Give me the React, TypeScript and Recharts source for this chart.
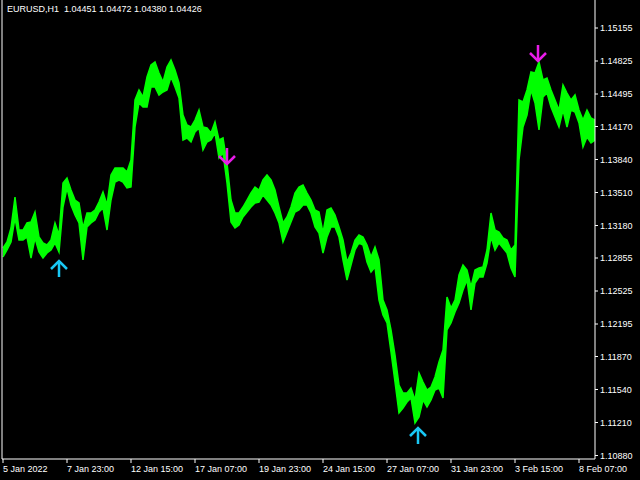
import { ComposedChart, Area, Scatter, XAxis, YAxis } from 'recharts';

// one sample every 4 H1 bars (high / low of the band)
const STEP = 4;

const highs = [
  1.12955, 1.13015, 1.13155, 1.13465, 1.13135, 1.13135, 1.13205, 1.13215, 1.13315, 1.13065,
  1.13005, 1.12985, 1.13035, 1.13205, 1.13085, 1.13605, 1.13655, 1.13535, 1.13435, 1.13405,
  1.13155, 1.13305, 1.13305, 1.13335, 1.13415, 1.13515, 1.13385, 1.13685, 1.13755, 1.13755,
  1.13755, 1.13715, 1.13835, 1.14435, 1.14535, 1.14465, 1.14665, 1.14785, 1.14815, 1.14705,
  1.14615, 1.14765, 1.14835, 1.14735, 1.14605, 1.14285, 1.14185, 1.14165, 1.14235, 1.14335,
  1.14165, 1.14155, 1.14105, 1.14215, 1.14035, 1.14055, 1.13805, 1.13435, 1.13305, 1.13305,
  1.13365, 1.13435, 1.13505, 1.13565, 1.13535, 1.13635, 1.13685, 1.13635, 1.13535, 1.13365,
  1.13205, 1.13265, 1.13365, 1.13505, 1.13565, 1.13585, 1.13505, 1.13435, 1.13335, 1.13315,
  1.13105, 1.13335, 1.13355, 1.13285, 1.13165, 1.13035, 1.12815, 1.12905, 1.13035, 1.13085,
  1.13065, 1.12985, 1.12865, 1.12965, 1.12835, 1.12435, 1.12335, 1.12135, 1.11885, 1.11585,
  1.11505, 1.11505, 1.11555, 1.11435, 1.11705, 1.11615, 1.11535, 1.11565, 1.11665, 1.11815,
  1.11935, 1.12465, 1.12355, 1.12435, 1.12685, 1.12785, 1.12735, 1.12565, 1.12735, 1.12755,
  1.12765, 1.12935, 1.13305, 1.13135, 1.13115, 1.13055, 1.13035, 1.12935, 1.12985, 1.14435,
  1.14415, 1.14535, 1.14715, 1.14705, 1.14815, 1.14635, 1.14655, 1.14535, 1.14435, 1.14335,
  1.14585, 1.14505, 1.14435, 1.14485, 1.14335, 1.14235, 1.14335, 1.14255, 1.14235,
];

const lows = [
  1.12865, 1.12935, 1.13015, 1.13255, 1.13035, 1.13035, 1.13065, 1.12855, 1.13055, 1.12915,
  1.12855, 1.12905, 1.12935, 1.13005, 1.12915, 1.13365, 1.13555, 1.13385, 1.13285, 1.13205,
  1.12835, 1.13165, 1.13205, 1.13235, 1.13315, 1.13355, 1.13135, 1.13435, 1.13615, 1.13635,
  1.13615, 1.13555, 1.13565, 1.14165, 1.14405, 1.14365, 1.14365, 1.14565, 1.14565, 1.14485,
  1.14515, 1.14535, 1.14665, 1.14565, 1.14455, 1.14035, 1.14055, 1.14015, 1.14115, 1.14155,
  1.13935, 1.14015, 1.14035, 1.14105, 1.13855, 1.13905, 1.13605, 1.13215, 1.13155, 1.13185,
  1.13265, 1.13315, 1.13365, 1.13405, 1.13415, 1.13485, 1.13435, 1.13385, 1.13305, 1.13205,
  1.13015, 1.13115, 1.13215, 1.13315, 1.13335, 1.13385, 1.13385, 1.13305, 1.13165, 1.13105,
  1.12905, 1.13065, 1.13165, 1.13165, 1.13065, 1.12835, 1.12635, 1.12785, 1.12935, 1.13005,
  1.12985, 1.12815, 1.12715, 1.12765, 1.12435, 1.12285, 1.12205, 1.11915, 1.11615, 1.11305,
  1.11355, 1.11415, 1.11455, 1.11205, 1.11265, 1.11435, 1.11365, 1.11435, 1.11535, 1.11555,
  1.11455, 1.12135, 1.12205, 1.12315, 1.12405, 1.12535, 1.12635, 1.12335, 1.12605, 1.12665,
  1.12665, 1.12805, 1.13065, 1.12935, 1.13005, 1.12955, 1.12905, 1.12755, 1.12665, 1.13835,
  1.14165, 1.14285, 1.14535, 1.14405, 1.14135, 1.14465, 1.14505, 1.14365, 1.14265, 1.14165,
  1.14335, 1.14165, 1.14335, 1.14315, 1.14205, 1.13965, 1.14065, 1.14005, 1.14035,
];

const timeTicks = [0, 64, 128, 192, 256, 320, 384, 448, 512, 576];
const timeLabels = [
  '5 Jan 2022', '7 Jan 23:00', '12 Jan 15:00', '17 Jan 07:00', '19 Jan 23:00',
  '24 Jan 15:00', '27 Jan 07:00', '31 Jan 23:00', '3 Feb 15:00', '8 Feb 07:00',
];

const priceTicks = [
  1.15155, 1.14825, 1.14495, 1.1417, 1.1384, 1.1351, 1.1318,
  1.12855, 1.12525, 1.12195, 1.1187, 1.1154, 1.1121, 1.1088,
];

const upArrows = [
  { bar: 56, price: 1.12825 },
  { bar: 415, price: 1.11155 },
];
const downArrows = [
  { bar: 224, price: 1.13795 },
  { bar: 535, price: 1.14825 },
];

const data = highs.map((h, i) => ({ bar: i * STEP, range: [lows[i], h] }));

const FONT = '"Liberation Sans", Arial, sans-serif';
const GREEN = '#00FF00';

function TimeTick({ x, y, payload }: any) {
  const i = timeTicks.indexOf(payload.value);
  return (
    <text x={x} y={y + 7} fill="#fff" fontSize={9} fontFamily={FONT} textAnchor="start">
      {timeLabels[i]}
    </text>
  );
}

function UpArrow({ cx, cy }: any) {
  return (
    <g stroke="#19C8F5" strokeWidth={2.5} fill="none">
      <line x1={cx} y1={cy} x2={cx} y2={cy + 16} />
      <polyline points={`${cx - 8},${cy + 8} ${cx},${cy} ${cx + 8},${cy + 8}`} />
    </g>
  );
}

function DownArrow({ cx, cy }: any) {
  return (
    <g stroke="#E81CE8" strokeWidth={2.5} fill="none">
      <line x1={cx} y1={cy} x2={cx} y2={cy - 16} />
      <polyline points={`${cx - 8},${cy - 8} ${cx},${cy} ${cx + 8},${cy - 8}`} />
    </g>
  );
}

export default function App() {
  const domain: [number, number] = [1.10845, 1.15435];
  return (
    <div style={{ position: 'absolute', left: 0, top: 0, width: 640, height: 480, background: '#000' }}>
      <div
        style={{
          position: 'absolute', left: 7, top: 4, color: '#fff', fontSize: 9,
          fontFamily: FONT, whiteSpace: 'pre', zIndex: 2,
        }}
      >
        {'EURUSD,H1  1.04451 1.04472 1.04380 1.04426'}
      </div>
      <ComposedChart width={640} height={480} data={data} margin={{ top: 0, right: 0, bottom: 0, left: 1 }}>
        <XAxis
          dataKey="bar"
          type="number"
          domain={[-1, 592]}
          ticks={timeTicks}
          interval={0}
          allowDataOverflow
          height={21}
          tickSize={4}
          axisLine={{ stroke: '#fff' }}
          tickLine={{ stroke: '#fff' }}
          tick={<TimeTick />}
        />
        <YAxis
          yAxisId="frame"
          orientation="left"
          width={1}
          domain={domain}
          tick={false}
          tickLine={false}
          axisLine={{ stroke: '#fff' }}
        />
        <YAxis
          yAxisId="p"
          orientation="right"
          width={45}
          domain={domain}
          allowDataOverflow
          ticks={priceTicks}
          interval={0}
          tickSize={3}
          tickMargin={2}
          axisLine={{ stroke: '#fff' }}
          tickLine={{ stroke: '#fff' }}
          tick={{ fill: '#fff', fontSize: 9, fontFamily: FONT }}
          tickFormatter={(v: number) => v.toFixed(5)}
        />
        <Area
          yAxisId="p"
          type="linear"
          dataKey="range"
          stroke={GREEN}
          strokeWidth={1.5}
          fill={GREEN}
          fillOpacity={1}
          dot={false}
          activeDot={false}
          isAnimationActive={false}
        />
        <Scatter yAxisId="p" data={upArrows} dataKey="price" shape={<UpArrow />} isAnimationActive={false} />
        <Scatter yAxisId="p" data={downArrows} dataKey="price" shape={<DownArrow />} isAnimationActive={false} />
      </ComposedChart>
    </div>
  );
}
